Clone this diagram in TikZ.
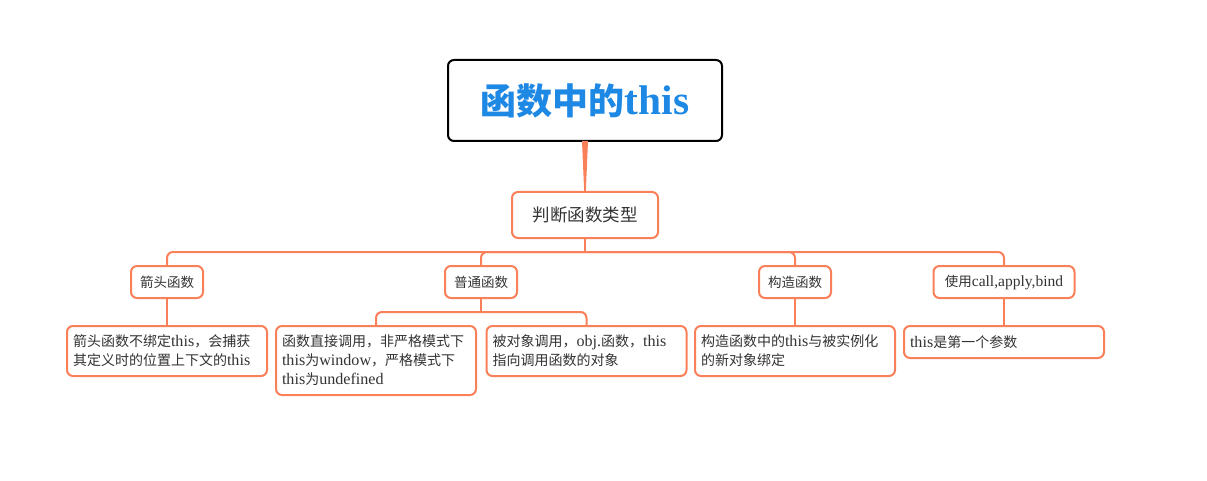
\documentclass[tikz,border=0pt]{standalone}
\usepackage{fontspec}
\setmainfont[Scale=1.15]{Liberation Serif}
\newfontfamily\cjk{Noto Sans CJK SC}
\usetikzlibrary{calc}
\definecolor{MindInk}{RGB}{51,51,51}
\definecolor{MindOrange}{RGB}{250,128,90}
\definecolor{MindBlue}{RGB}{30,136,229}
\newcommand{\zh}[1]{{\cjk #1}}
\tikzset{
    mind/diagram/.style={
        x=1pt, y=-1pt,
        text=MindInk,
        line width=2pt,
        line join=round,
        every node/.style={inner sep=0pt, outer sep=0pt}
    },
    mind/root/.style={
        draw=black, fill=white, rounded corners=6pt,
        minimum width=274pt, minimum height=81pt,
        text=MindBlue, font=\fontsize{36}{40}\selectfont\bfseries
    },
    mind/type/.style={
        draw=MindOrange, fill=white, rounded corners=6pt,
        minimum width=146pt, minimum height=46pt,
        font=\fontsize{17.5}{21}\selectfont
    },
    mind/branch/.style={
        draw=MindOrange, fill=white, rounded corners=6pt,
        minimum height=32pt, inner xsep=6pt,
        font=\fontsize{13.5}{16}\selectfont
    },
    mind/leaf/.style={
        draw=MindOrange, fill=white, rounded corners=6pt,
        anchor=north, text width=188pt, inner xsep=6pt, inner ysep=6pt,
        align=left, font=\fontsize{14}{19}\selectfont
    },
    mind/link/.style={draw=MindOrange, line width=2pt, rounded corners=6pt},
    mind/taper/.style={fill=MindOrange}
}
\begin{document}
\begin{tikzpicture}[mind/diagram]
    \useasboundingbox (0,0) rectangle (1207,481);
    % root and the question it leads to
    \node[mind/root] (root) at (585,100.5) {\zh{函数中的}this};
    \node[mind/type] (type) at (585,215) {\zh{判断函数类型}};
    \fill[mind/taper] ($(root.south)+(-3,0)$) -- ($(root.south)+(3,0)$)
        -- ($(type.north)+(0.8,0)$) -- ($(type.north)+(-0.8,0)$) -- cycle;
    % four kinds of call
    \node[mind/branch, minimum width=72pt] (arrow) at (167,282) {\zh{箭头函数}};
    \node[mind/branch, minimum width=72pt] (plain) at (481,282) {\zh{普通函数}};
    \node[mind/branch, minimum width=72pt] (ctor) at (795,282) {\zh{构造函数}};
    \node[mind/branch, minimum width=141pt] (bind) at (1004,282) {\zh{使用}call,apply,bind};
    \draw[mind/link, sharp corners] (type.south) -- ++(0,14) coordinate (typehub);
    \foreach \kind in {arrow,plain,ctor,bind}
        \draw[mind/link] (typehub) -| (\kind.north);
    % what this is bound to
    \node[mind/leaf, minimum height=50pt] (arrowleaf) at (167,326)
        {\zh{箭头函数不绑定}this\zh{，会捕获}\\\zh{其定义时的位置上下文的}this};
    \node[mind/leaf, minimum height=69pt] (directleaf) at (376,326)
        {\zh{函数直接调用，非严格模式下}\\this\zh{为}window\zh{，严格模式下}\\this\zh{为}undefined};
    \node[mind/leaf, minimum height=50pt] (objleaf) at (586.5,326)
        {\zh{被对象调用，}obj.\zh{函数，}this\\\zh{指向调用函数的对象}};
    \node[mind/leaf, minimum height=50pt] (ctorleaf) at (795,326)
        {\zh{构造函数中的}this\zh{与被实例化}\\\zh{的新对象绑定}};
    \node[mind/leaf, minimum height=32pt] (bindleaf) at (1004,326)
        {this\zh{是第一个参数}};
    \draw[mind/link] (arrow.south) -- (arrowleaf.north);
    \draw[mind/link, sharp corners] (plain.south) -- ++(0,14) coordinate (plainhub);
    \draw[mind/link] (plainhub) -| (directleaf.north);
    \draw[mind/link] (plainhub) -| (objleaf.north);
    \draw[mind/link] (ctor.south) -- (ctorleaf.north);
    \draw[mind/link] (bind.south) -- (bindleaf.north);
\end{tikzpicture}
\end{document}
